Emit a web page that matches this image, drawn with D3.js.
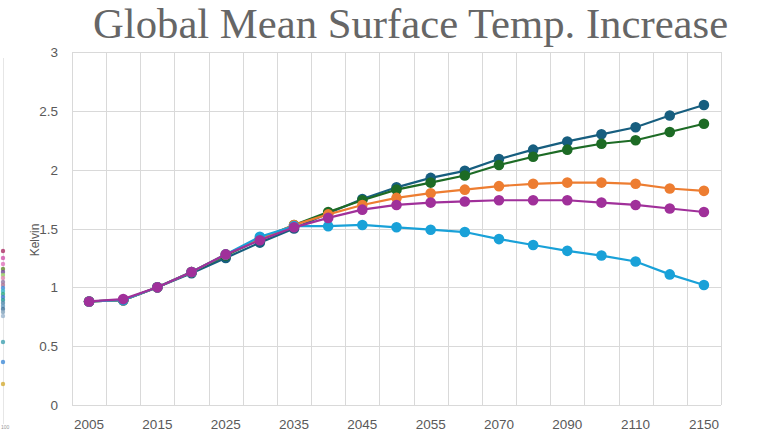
<!DOCTYPE html>
<html>
<head>
<meta http-equiv="Content-Type" content="text/html;charset=utf-8">
<script type="text/javascript" src="https://d3js.org/d3.v7.min.js"></script>
<style>
  body { margin: 0; background: #fff; }
  svg { display: block; }
</style>
</head>
<body>
<div id="chart"></div>
<script type="text/javascript">

// x categories (only every other one is labelled)
var years = ["2005","2010","2015","2020","2025","2030","2035","2040","2045","2050",
             "2055","2060","2070","2080","2090","2100","2110","2125","2150"];

var seriesNames = ["s1","s2","s3","s4","s5"];
var seriesColors = ["#175e7f","#1d6b25","#ed7d31","#19a1d8","#a0309a"];

var darkBlue  = [0.88,0.89,1.00,1.12,1.25,1.38,1.50,1.63,1.75,1.85,1.93,1.99,2.09,2.17,2.24,2.30,2.36,2.46,2.55];
var green     = [0.88,0.89,1.00,1.13,1.27,1.41,1.53,1.64,1.74,1.83,1.89,1.95,2.04,2.11,2.17,2.22,2.25,2.32,2.39];
var orange    = [0.88,0.89,1.00,1.13,1.28,1.41,1.53,1.62,1.70,1.76,1.80,1.83,1.86,1.88,1.89,1.89,1.88,1.84,1.82];
var lightBlue = [0.88,0.89,1.00,1.13,1.28,1.43,1.52,1.52,1.53,1.51,1.49,1.47,1.41,1.36,1.31,1.27,1.22,1.11,1.02];
var purple    = [0.88,0.90,1.00,1.13,1.28,1.40,1.51,1.59,1.66,1.70,1.72,1.73,1.74,1.74,1.74,1.72,1.70,1.67,1.64];

var yTicks = [0, 0.5, 1, 1.5, 2, 2.5, 3];

// stray bits of a neighbouring chart on the left edge
var strayY = [251,258,264,269,272,275,278,282,285,288,291,294,297,300,303,306,309,312,316,342,362,384];
var strayC = ["#b03a6e","#d45bb0","#e07ac0","#6b8f3a","#7b4fa0","#9bcf6a","#e08ab0","#9a7fa8","#b07a9a",
              "#4a90d9","#3fb5c8","#3cae8a","#4a7fd0","#2f9e9e","#5a8fb0","#6a9ec0","#4a7aa0","#8aa8c0","#a0b8d0",
              "#4aa6b5","#4a90d9","#d6b040"];

var data = [darkBlue, green, orange, lightBlue, purple];

var W = 757, H = 434;
var pLeft = 72, pRight = 721, pTop = 52, pBottom = 405;

var svg = d3.select("#chart").append("svg")
    .attr("width", W)
    .attr("height", H);

var x = d3.scaleBand().domain(years).range([pLeft, pRight]).padding(0);
var y = d3.scaleLinear().domain([0, 3]).range([pBottom, pTop]);
var cx = function(i) { return x(years[i]) + x.bandwidth() / 2; };

// stray axis on the far left
svg.append("line")
    .attr("x1", 3.5).attr("x2", 3.5).attr("y1", 58).attr("y2", 424)
    .attr("stroke", "#e6e6e6").attr("stroke-width", 1);
svg.append("g").selectAll("circle")
    .data(strayY)
    .enter().append("circle")
    .attr("cx", 3)
    .attr("cy", function(d) { return d; })
    .attr("r", 2.2)
    .attr("fill", function(d, i) { return strayC[i]; })
    .attr("opacity", 0.85);
svg.append("text")
    .attr("x", 1).attr("y", 429)
    .attr("font-family", "Liberation Sans, sans-serif")
    .attr("font-size", 5)
    .attr("fill", "#999")
    .text("100");

// gridlines
var grid = svg.append("g").attr("stroke", "#d9d9d9").attr("stroke-width", 1);
grid.selectAll(".hg")
    .data(yTicks)
    .enter().append("line")
    .attr("x1", pLeft).attr("x2", pRight)
    .attr("y1", function(d) { return Math.round(y(d)) + 0.5; })
    .attr("y2", function(d) { return Math.round(y(d)) + 0.5; });
grid.selectAll(".vg")
    .data(years.concat(["end"]))
    .enter().append("line")
    .attr("x1", function(d, i) { return Math.round(pLeft + i * x.bandwidth()) + 0.5; })
    .attr("x2", function(d, i) { return Math.round(pLeft + i * x.bandwidth()) + 0.5; })
    .attr("y1", pTop).attr("y2", pBottom);

// axis labels
svg.append("g").selectAll("text")
    .data(yTicks)
    .enter().append("text")
    .attr("x", 58)
    .attr("y", function(d) { return y(d) + 5; })
    .attr("text-anchor", "end")
    .attr("font-family", "Liberation Sans, sans-serif")
    .attr("font-size", 13.5)
    .attr("fill", "#595959")
    .text(function(d) { return d; });

svg.append("g").selectAll("text")
    .data(years)
    .enter().append("text")
    .attr("x", function(d, i) { return cx(i); })
    .attr("y", 429)
    .attr("text-anchor", "middle")
    .attr("font-family", "Liberation Sans, sans-serif")
    .attr("font-size", 13.5)
    .attr("fill", "#595959")
    .text(function(d, i) { return i % 2 === 0 ? d : ""; });

svg.append("text")
    .attr("transform", "translate(39,240) rotate(-90)")
    .attr("text-anchor", "middle")
    .attr("font-family", "Liberation Sans, sans-serif")
    .attr("font-size", 12)
    .attr("fill", "#595959")
    .text("Kelvin");

// title
svg.append("text")
    .attr("x", 93).attr("y", 38)
    .attr("font-family", "Liberation Serif, serif")
    .attr("font-size", 42.7)
    .attr("fill", "#666666")
    .text("Global Mean Surface Temp. Increase");

// series
var line = d3.line()
    .x(function(d, i) { return cx(i); })
    .y(function(d) { return y(d); });

var series = svg.append("g").selectAll("g")
    .data(data)
    .enter().append("g");

series.append("path")
    .attr("d", function(d) { return line(d); })
    .attr("fill", "none")
    .attr("stroke", function(d, i) { return seriesColors[i]; })
    .attr("stroke-width", 2.2);

series.each(function(d, k) {
    d3.select(this).selectAll("circle")
        .data(d)
        .enter().append("circle")
        .attr("cx", function(v, i) { return cx(i); })
        .attr("cy", function(v) { return y(v); })
        .attr("r", 5.3)
        .attr("fill", seriesColors[k]);
});

</script>
</body>
</html>
